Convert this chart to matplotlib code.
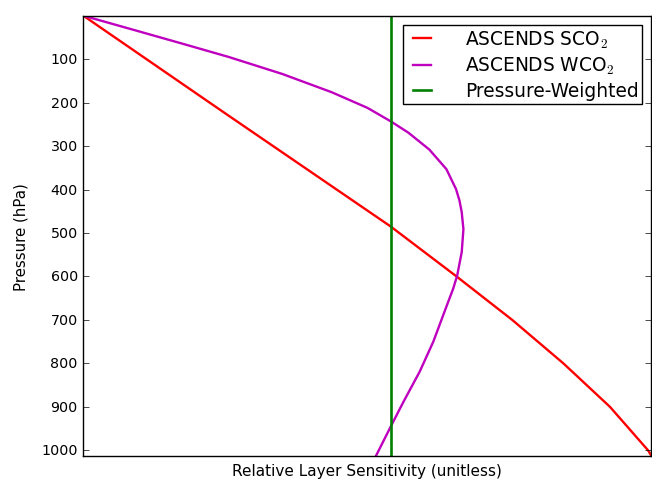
import numpy as np
import matplotlib
matplotlib.use("Agg")
import matplotlib.pyplot as plt

plt.style.use("classic")

# pressure (hPa) vs relative layer sensitivity (0..1 of x range)
p_sco2 = [0, 224, 485, 600, 700, 800, 900, 1000, 1013]
x_sco2 = [0.0, 0.249, 0.541, 0.657, 0.755, 0.845, 0.927, 0.994, 1.0]

p_wco2 = [0, 35, 65, 95, 134, 176, 212, 243, 269, 308, 353, 399, 425, 452,
          491, 544, 598, 628, 666, 750, 819, 887, 948, 1013]
x_wco2 = [0.0, 0.095, 0.176, 0.256, 0.350, 0.437, 0.500, 0.541, 0.572, 0.609,
          0.639, 0.656, 0.662, 0.666, 0.669, 0.666, 0.658, 0.651, 0.640, 0.616,
          0.592, 0.564, 0.540, 0.515]

x_pw = 0.541
p_pw = [0, 1013]

y_ticks = [100, 200, 300, 400, 500, 600, 700, 800, 900, 1000]

fig = plt.figure(figsize=(6.52, 4.81), dpi=100, facecolor="white")
ax = fig.add_axes([0.1278, 0.0499, 0.8714, 0.9154])

ax.plot(x_sco2, p_sco2, color="r", lw=1.7, label=r"ASCENDS SCO$_2$")
ax.plot(x_wco2, p_wco2, color="m", lw=1.7, label=r"ASCENDS WCO$_2$")
ax.plot([x_pw, x_pw], p_pw, color="g", lw=1.9, label="Pressure-Weighted")

ax.set_xlim(0, 1)
ax.set_ylim(1013, 0)
ax.set_xticks([])
ax.set_yticks(y_ticks)
ax.tick_params(axis="y", labelsize=10.3)
ax.set_ylabel("Pressure (hPa)", fontsize=10.8, labelpad=9)
ax.set_xlabel("Relative Layer Sensitivity (unitless)", fontsize=11)

leg = ax.legend(loc="upper right", fontsize=13.4, handlelength=1.6,
                handletextpad=1.5, borderaxespad=0.5, borderpad=0.2,
                labelspacing=0.28)
leg.get_frame().set_linewidth(1.0)

fig.savefig("out.png", dpi=100, facecolor="white")
